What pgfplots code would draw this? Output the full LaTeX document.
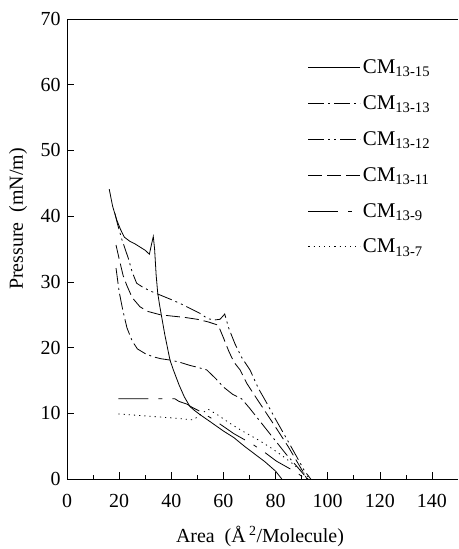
\documentclass[border=0pt]{standalone}
\usepackage{fontspec}
\setmainfont{Liberation Serif}
\usepackage{pgfplots}
\pgfplotsset{compat=1.18}
\begin{document}
\begin{tikzpicture}
\begin{axis}[
  scale only axis, width=391bp, height=460bp,
  xmin=0, xmax=150, ymin=0, ymax=70,
  axis x line*=box, axis y line*=left,
  xtick pos=left, ytick pos=left,
  xtick={0,20,...,140}, ytick={0,10,...,70},
  minor x tick num=1,
  tick align=inside, major tick length=7bp, minor tick length=4bp,
  tick style={black, line width=0.6bp},
  axis line style={line width=0.8bp},
  /pgf/number format/assume math mode=true,
  tick label style={font=\fontsize{20}{24}\selectfont},
  xticklabel style={yshift=-12bp},
  yticklabel style={xshift=-3bp},
  every axis x label/.style={at={(rel axis cs:0.4936,-0.1245)},anchor=center,
    font=\fontsize{20}{24}\selectfont},
  every axis y label/.style={at={(rel axis cs:-0.1253,0.5652)},rotate=90,anchor=center,
    font=\fontsize{20}{24}\selectfont},
  xlabel={Area\ \ (Å\,\textsuperscript{2}/Molecule)},
  ylabel={Pressure\ \ (mN/m)},
  clip=false,
  legend cell align=left,
  legend image code/.code={\draw[#1] (0bp,0bp) -- (45bp,0bp);
    \path (0bp,0bp) -- (52bp,0bp);},
  legend style={draw=none, fill=none, at={(axis cs:92.4,64.1)}, anchor=north west,
    font=\fontsize{21}{24}\selectfont, row sep=16.5bp, inner sep=0pt,
    nodes={inner sep=2pt}},
  every axis plot/.append style={black, line width=0.8bp, mark=none},
]
% CM13-15
\addplot[solid] coordinates {(16.2,44.1) (17.5,41.5) (19,39.5) (20.5,38) (22,36.8) (24,36.2)
  (26,35.8) (28,35.3) (30,34.8) (31.6,34.2) (32.3,35.5) (33.1,36.9) (33.6,35) (34.2,31)
  (34.8,28.3) (35.5,26.5) (36.3,24.7) (37.5,22) (39.5,18.1) (40.8,16.6) (43,14.3) (45,12.5)
  (47.2,11) (49,10.4) (51,9.8) (55,8.7) (60,7.3) (64,6.3) (68,5) (72,3.8) (76,2.6) (80,1.2) (82.4,0)};
\addlegendentry{CM\textsubscript{13-15}}
% CM13-13
\addplot[dash pattern=on 16bp off 4bp on 2bp off 4bp] coordinates {(18.8,32.1) (20,28.5)
  (21.5,25.5) (23,23) (25,21) (27,19.8) (29.9,19.1) (33,18.6) (36,18.3) (39.5,18.1)
  (43,17.8) (47,17.3) (50,17) (53.6,16.6) (57,15.3) (60,14) (63.5,12.9) (67,12.2)
  (70,10.8) (73,9.3) (76.6,7.5) (80,5.8) (84,3.8) (88,2) (91,0.6) (92.5,0)};
\addlegendentry{CM\textsubscript{13-13}}
% CM13-12
\addplot[dash pattern=on 16bp off 4bp on 2bp off 4bp on 2bp off 4bp] coordinates {(18.4,40.4)
  (19.3,38.9) (21,36.5) (23.5,33.6) (25,31.5) (26.7,29.8) (29,29.2) (32,28.6) (35.7,28)
  (40,27.3) (44,26.6) (47,26) (51,25.2) (54,24.4) (56.5,24.2) (58.7,24.3) (60.5,25.1)
  (62,23) (64.4,20.6) (67,18.5) (70.2,16.6) (73.4,13.8) (76,12) (80,9.1) (84,6.3)
  (88.1,3.4) (91,1.3) (93.5,0)};
\addlegendentry{CM\textsubscript{13-12}}
% CM13-11
\addplot[dash pattern=on 14bp off 5bp] coordinates {(18.8,35.6) (20,33.5) (21.5,31)
  (22.9,29.5) (25,27.6) (28,26.2) (31,25.5) (35.7,25) (40,24.8) (45,24.6) (50,24.3)
  (54.2,23.9) (58,23.4) (60,21.5) (62,19.5) (64,17.8) (66.4,16.6) (68.9,14.6) (72,12.7)
  (76,10.3) (80,7.9) (84.9,4.9) (88,2.8) (91,0.8) (92,0)};
\addlegendentry{CM\textsubscript{13-11}}
% CM13-9
\addplot[dash pattern=on 30bp off 10bp on 4bp off 10bp] coordinates {(19.7,12.2) (41.4,12.2)
  (43,11.8) (46,11.4) (48,10.9) (51,10.3) (56,9.1) (60,8) (64,6.9) (68,6) (71.5,5.2)
  (76,4) (80.4,2.7) (84,1.9) (88,1) (91.5,0)};
\addlegendentry{CM\textsubscript{13-9}}
% CM13-7
\addplot[dash pattern=on 1.2bp off 4bp] coordinates {(19.7,9.9) (30,9.6) (40,9.3)
  (48.5,9.0) (50.5,9.6) (52.5,10.2) (54.2,10.6) (58,9.7) (62,8.6) (66,7.6) (70,6.7)
  (74,5.8) (78,4.8) (82,3.7) (86,2.5) (90,1.2) (93.5,0)};
\addlegendentry{CM\textsubscript{13-7}}
\coordinate (bbA) at (rel axis cs:-0.1714,-0.1522);
\coordinate (bbB) at (rel axis cs:1,1.0413);
\end{axis}
\pgfresetboundingbox
\path[use as bounding box] (bbA) rectangle (bbB);
\end{tikzpicture}
\end{document}
